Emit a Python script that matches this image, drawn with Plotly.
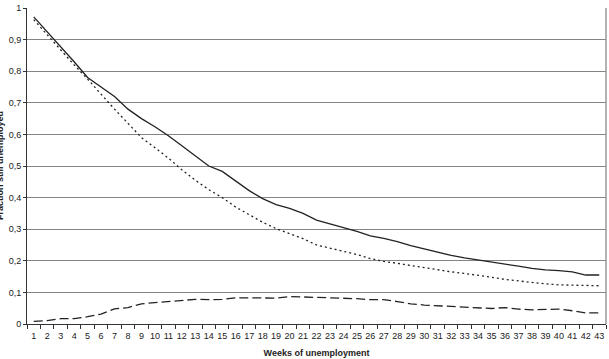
import plotly.graph_objects as go

weeks = [str(i) for i in range(1, 44)]

solid_vals = [0.972, 0.925, 0.877, 0.83, 0.78, 0.749, 0.72, 0.68, 0.65, 0.624,
              0.596, 0.564, 0.533, 0.5, 0.483, 0.451, 0.422, 0.397, 0.378, 0.366,
              0.35, 0.329, 0.318, 0.305, 0.293, 0.279, 0.271, 0.261, 0.248, 0.237,
              0.227, 0.217, 0.209, 0.203, 0.195, 0.189, 0.183, 0.176, 0.171, 0.169,
              0.165, 0.155, 0.155]

dotted_vals = [0.963, 0.915, 0.87, 0.82, 0.775, 0.727, 0.68, 0.635, 0.59, 0.558,
               0.525, 0.488, 0.455, 0.425, 0.4, 0.37, 0.345, 0.322, 0.302, 0.287,
               0.27, 0.25, 0.24, 0.23, 0.22, 0.207, 0.198, 0.192, 0.185, 0.178,
               0.171, 0.165, 0.16, 0.155, 0.148, 0.141, 0.136, 0.132, 0.127, 0.124,
               0.123, 0.121, 0.121]

dashed_vals = [0.008, 0.011, 0.017, 0.017, 0.023, 0.031, 0.048, 0.052, 0.064, 0.067,
               0.07, 0.075, 0.078, 0.077, 0.078, 0.083, 0.083, 0.084, 0.082, 0.087,
               0.086, 0.083, 0.082, 0.081, 0.08, 0.077, 0.077, 0.071, 0.064, 0.06,
               0.058, 0.055, 0.052, 0.051, 0.049, 0.052, 0.047, 0.045, 0.046, 0.047,
               0.042, 0.035, 0.035]

y_ticks = [0, 0.1, 0.2, 0.3, 0.4, 0.5, 0.6, 0.7, 0.8, 0.9, 1]

line_col = "#222222"
fig = go.Figure()
fig.add_trace(go.Scatter(x=weeks, y=solid_vals, mode="lines",
                         line=dict(color=line_col, width=1.3)))
fig.add_trace(go.Scatter(x=weeks, y=dotted_vals, mode="lines",
                         line=dict(color=line_col, width=1.3, dash="2px,3px")))
fig.add_trace(go.Scatter(x=weeks, y=dashed_vals, mode="lines",
                         line=dict(color=line_col, width=1.3, dash="9px,4px")))

fam = "Liberation Sans, Arial, sans-serif"
font = dict(family=fam, size=9, color="#222")

fig.update_layout(
    width=609, height=359,
    margin=dict(l=27, r=3, t=5, b=35),
    paper_bgcolor="white", plot_bgcolor="white",
    showlegend=False,
    separators=", ",
    font=font,
    xaxis=dict(
        type="category", tickson="boundaries", ticks="outside", ticklen=4,
        tickcolor="#333", showgrid=False, showline=True, linecolor="#333",
        linewidth=1, tickangle=0, tickfont=dict(family=fam, size=9, color="#222"),
        ticklabelstandoff=3,
        title=dict(text="<b>Weeks of unemployment</b>", standoff=9,
                   font=dict(family=fam, size=9, color="#222")),
        range=[-0.5, 42.5],
    ),
    yaxis=dict(
        range=[0, 1], tickvals=y_ticks, ticks="outside", ticklen=3,
        tickcolor="#333", showline=True, linecolor="#333", linewidth=1,
        showgrid=True, gridcolor="#848484", gridwidth=1.3,
        zeroline=False, tickfont=dict(family=fam, size=9, color="#222"),
        ticklabeloverflow="allow",
    ),
    shapes=[dict(type="line", xref="paper", yref="paper", x0=1, x1=1, y0=0, y1=1,
                 line=dict(color="#9a9a9a", width=1.5))],
    annotations=[dict(text="<b>Fraction still unemployed</b>", textangle=-90,
                      xref="paper", yref="paper", x=(0 - 27) / 579, y=0.5,
                      xanchor="center", yanchor="middle", showarrow=False,
                      font=dict(family=fam, size=9, color="#222"))],
)

fig.write_html("out.html")
